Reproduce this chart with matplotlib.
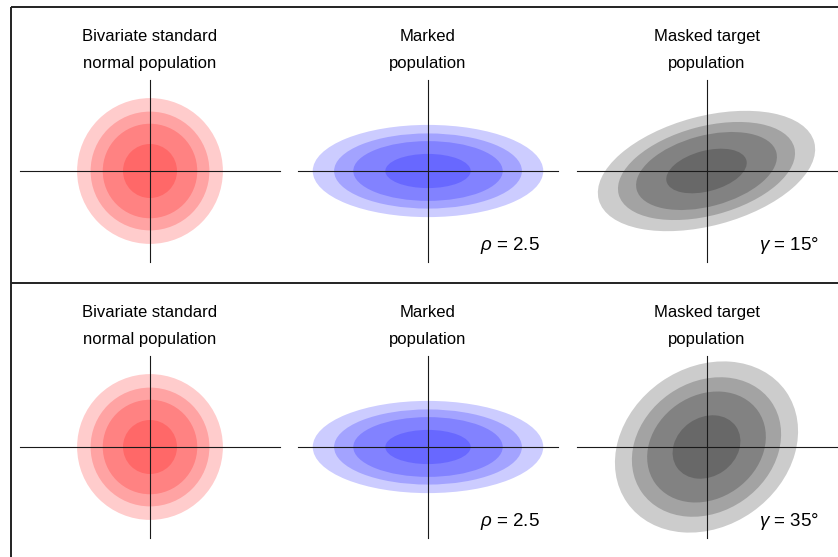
import numpy as np
import matplotlib
matplotlib.use("Agg")
import matplotlib.pyplot as plt
from matplotlib.patches import Ellipse

plt.rcParams['font.family'] = ['Liberation Sans', 'DejaVu Sans']
plt.rcParams['mathtext.fontset'] = 'custom'
plt.rcParams['mathtext.it'] = 'Liberation Sans:italic'
plt.rcParams['mathtext.rm'] = 'Liberation Sans'

# panel titles (same in both rows)
titles = ["Bivariate standard\nnormal population", "Marked\npopulation", "Masked target\npopulation"]
# contour radii of the standard normal population, outermost first
contour_radii = [2.7, 2.2, 1.75, 1.0]
# one entry per row
rho_values = [2.5, 2.5]
gamma_values = [15, 35]
# masked target ellipse semi-axes, as multiples of the standard radius
target_major = [1.53, 1.33]
target_minor = [0.75, 1.09]
fill_colors = ['red', 'blue', 'black']

W, H = 838, 557
px = 27.0  # pixels per unit
col_x = [150, 428, 706.5]
row_y = [171, 447]

fig = plt.figure(figsize=(W / 100, H / 100), dpi=100)
bg = fig.add_axes([0, 0, 1, 1])
bg.set_xlim(0, W)
bg.set_ylim(H, 0)
bg.axis('off')
# frame lines of the two boxes
bg.plot([10.5, 10.5], [6.5, H + 5], color='#222222', lw=1.4, solid_capstyle='butt')
bg.plot([10.5, W + 5], [6.5, 6.5], color='#222222', lw=1.4, solid_capstyle='butt')
bg.plot([10.5, W + 5], [282.5, 282.5], color='#222222', lw=1.4, solid_capstyle='butt')

for r, cy in enumerate(row_y):
    rho = rho_values[r]
    gamma = gamma_values[r]
    for c, cx in enumerate(col_x):
        ax = fig.add_axes([(cx - 139) / W, 1 - (cy + 138) / H, 278 / W, 276 / H])
        ax.set_xlim(-139 / px, 139 / px)
        ax.set_ylim(-138 / px, 138 / px)
        ax.axis('off')

        for rad in contour_radii:
            if c == 0:
                w, h, ang = 2 * rad, 2 * rad, 0
            elif c == 1:
                w, h, ang = 2 * rad * np.sqrt(rho), 2 * rad / np.sqrt(rho), 0
            else:
                w, h, ang = 2 * rad * target_major[r], 2 * rad * target_minor[r], gamma
            ax.add_patch(Ellipse((0, 0), w, h, angle=ang, facecolor=fill_colors[c],
                                 alpha=0.2, lw=0, zorder=1))

        ax.plot([-130 / px, 130 / px], [0, 0], color='#1a1a1a', lw=0.8, zorder=3)
        ax.plot([0, 0], [-91 / px, 91 / px], color='#1a1a1a', lw=0.8, zorder=3)

        ax.text(0, 4.48, titles[c], ha='center', va='center', fontsize=12, linespacing=1.97)

        if c == 1:
            ax.text(112 / px, -79 / px, r'$\rho$ = %g' % rho, ha='right', va='baseline', fontsize=13.5)
        elif c == 2:
            ax.text(112 / px, -79 / px, r'$\gamma$ = %d°' % gamma, ha='right', va='baseline', fontsize=13.5)

fig.savefig('out.png', dpi=100)
